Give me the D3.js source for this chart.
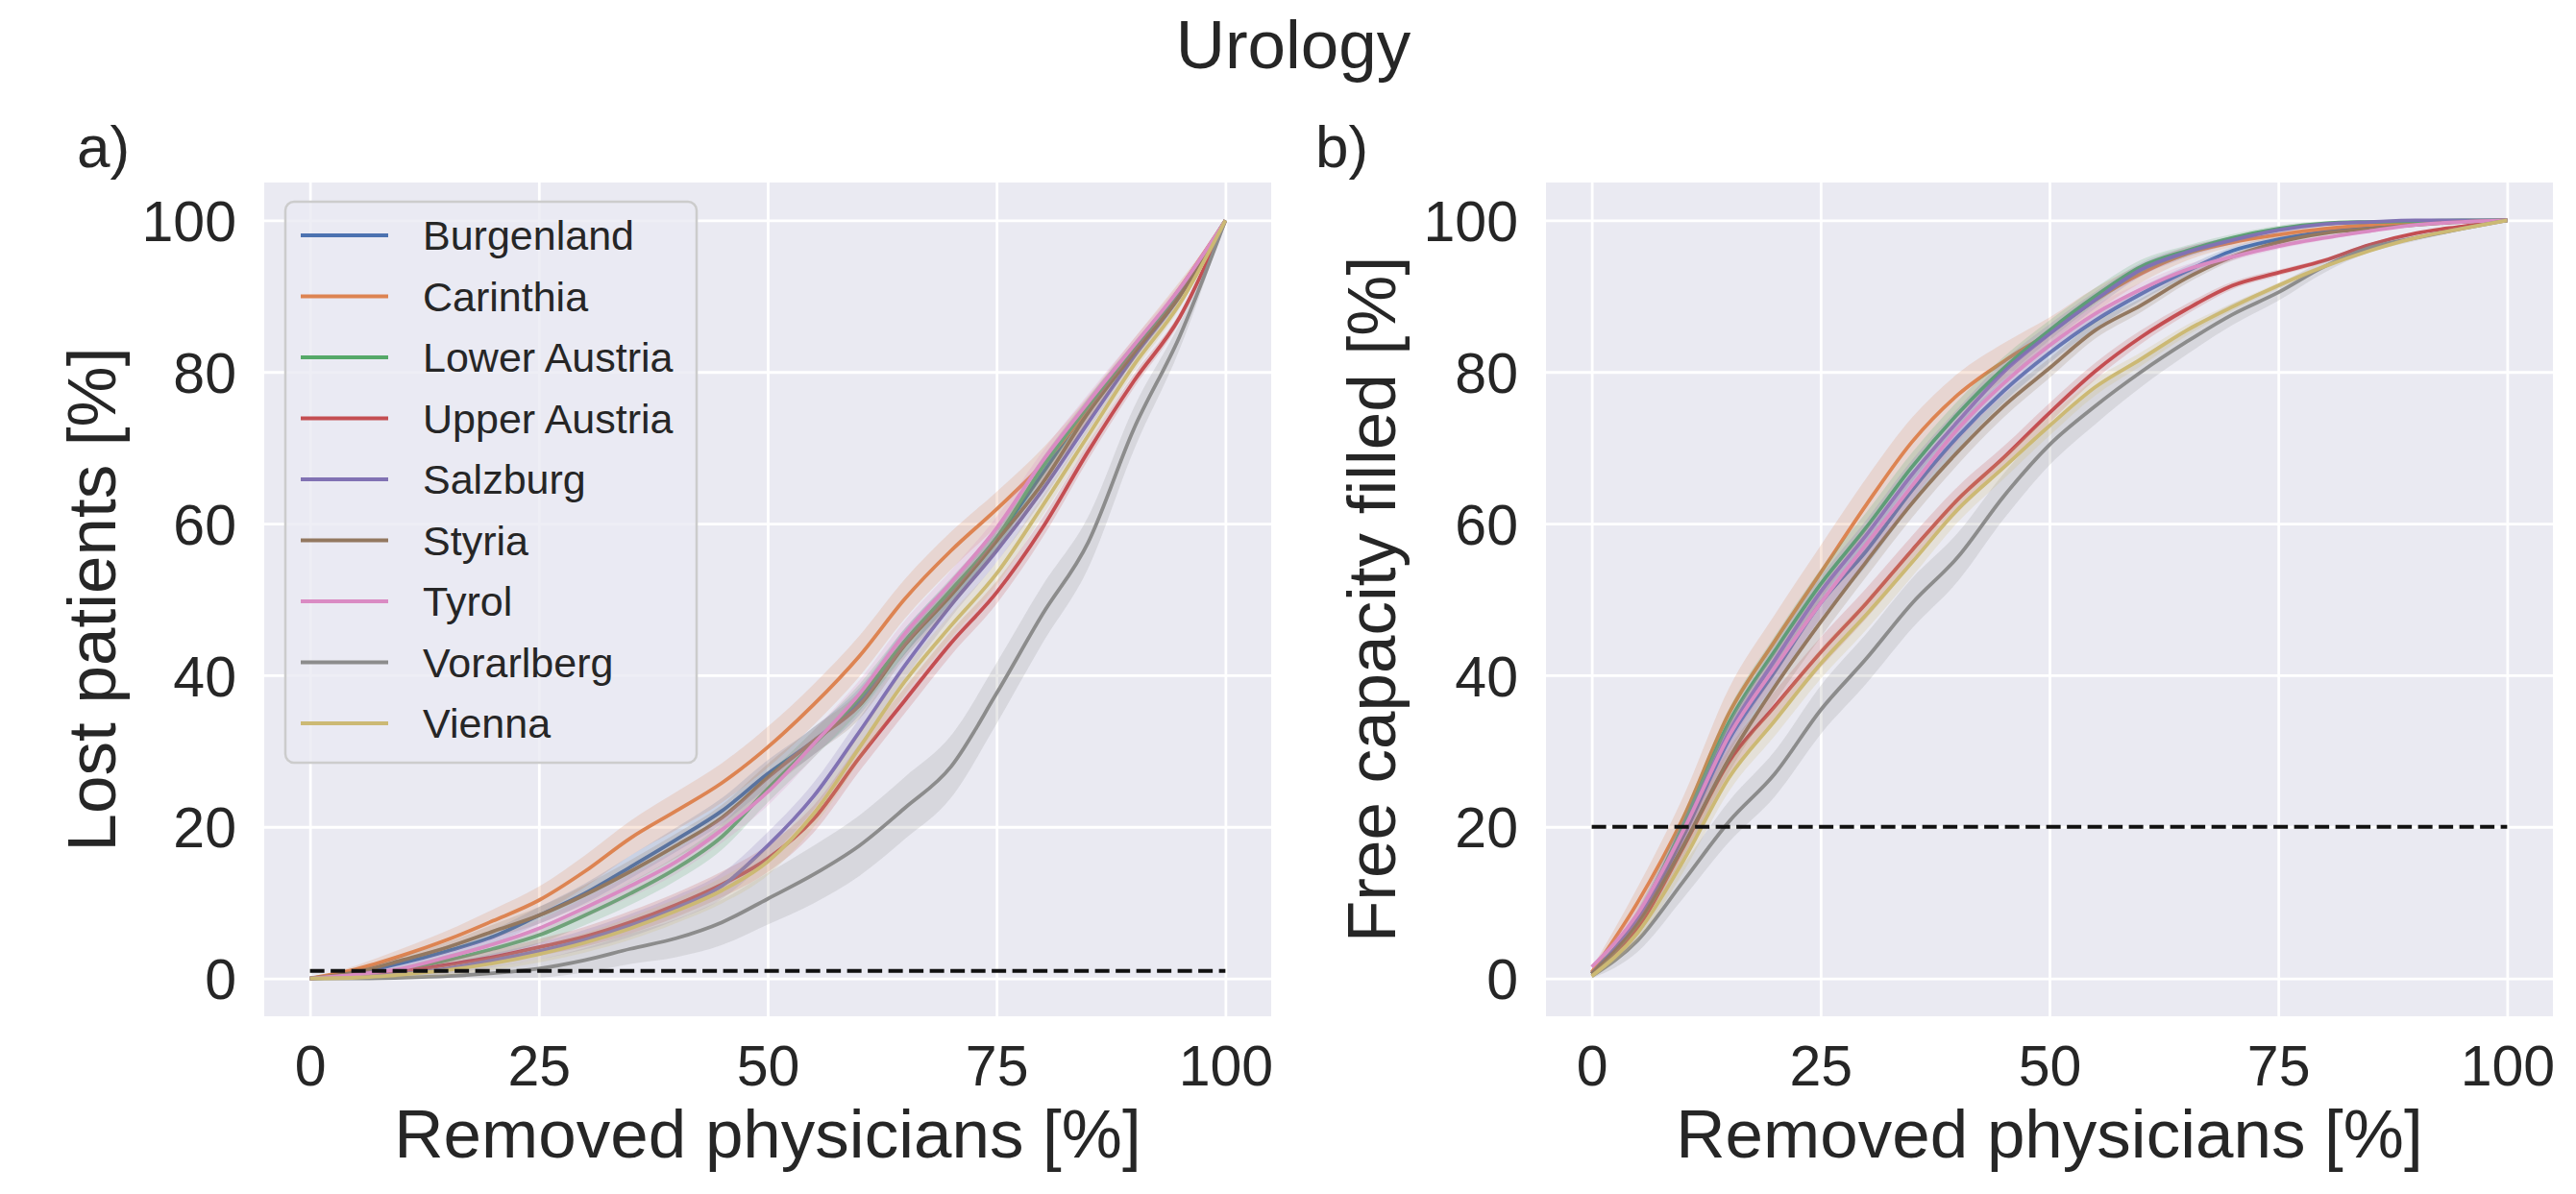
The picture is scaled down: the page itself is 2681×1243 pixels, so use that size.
<!DOCTYPE html>
<html>
<head>
<meta charset="utf-8">
<script src="https://cdn.jsdelivr.net/npm/d3@7"></script>
<style>
  body { margin: 0; background: #ffffff; }
  text { font-family: "Liberation Sans", Arial, sans-serif; fill: #262626; }
</style>
</head>
<body>
<div id="chart"></div>
<script>
// Données (pas de 5 %)
const removed = [0, 5, 10, 15, 20, 25, 30, 35, 40, 45, 50, 55, 60, 65, 70, 75, 80, 85, 90, 95, 100]
const xTicks = [0, 25, 50, 75, 100]
const yTicks = [0, 20, 40, 60, 80, 100]

const regions = ["Burgenland", "Carinthia", "Lower Austria", "Upper Austria", "Salzburg", "Styria", "Tyrol", "Vorarlberg", "Vienna"]
const colors = ["#4C72B0", "#DD8452", "#55A868", "#C44E52", "#8172B3", "#937860", "#DA8BC3", "#8C8C8C", "#CCB974"]

// a) Lost patients [%]
const lostBurgenland   = [0, 0.7, 2.0, 3.6, 5.5, 8.3, 11.2, 14.7, 18.3, 22.1, 27.0, 31.3, 36.5, 44.5, 51.0, 58.1, 66.6, 75.4, 83.0, 90.5, 100]
const lostCarinthia    = [0, 1.2, 3.0, 5.1, 7.6, 10.3, 14.1, 18.5, 22.1, 25.8, 30.5, 36.1, 42.5, 50.1, 56.4, 61.9, 67.8, 75.0, 83.0, 91.0, 100]
const lostLowerAustria = [0, 0.3, 1.1, 2.4, 3.9, 5.7, 8.3, 11.2, 14.5, 18.7, 25.0, 30.9, 37.0, 44.5, 51.2, 58.1, 67.4, 75.5, 83.0, 90.5, 100]
const lostUpperAustria = [0, 0.3, 0.9, 1.8, 2.8, 4.1, 5.5, 7.4, 9.7, 12.4, 15.8, 21.0, 29.1, 36.7, 44.2, 50.9, 59.4, 69.5, 78.8, 87.2, 100]
const lostSalzburg     = [0, 0.2, 0.6, 1.3, 2.4, 3.6, 5.1, 7.0, 9.3, 12.2, 17.5, 24.0, 32.5, 41.3, 49.2, 56.4, 64.4, 73.3, 82.0, 90.0, 100]
const lostStyria       = [0, 0.8, 2.4, 4.1, 6.2, 8.3, 11.0, 14.1, 17.5, 21.2, 26.5, 31.3, 36.0, 44.0, 50.5, 57.7, 65.3, 74.6, 82.5, 90.0, 100]
const lostTyrol        = [0, 0.5, 1.3, 2.8, 4.5, 6.6, 9.3, 12.2, 15.4, 19.6, 24.6, 30.9, 37.5, 45.5, 52.2, 59.4, 68.2, 76.0, 83.5, 91.0, 100]
const lostVorarlberg   = [0, 0, 0.1, 0.3, 0.7, 1.3, 2.4, 3.9, 5.3, 7.4, 10.5, 13.7, 17.5, 22.5, 27.9, 37.6, 48.0, 57.5, 72.5, 84.7, 100]
const lostVienna       = [0, 0.1, 0.5, 1.1, 2.0, 3.2, 4.7, 6.6, 8.9, 11.6, 15.4, 21.7, 30.4, 39.2, 46.5, 53.4, 62.3, 71.6, 80.9, 89.0, 100]

// b) Free capacity filled [%]
const fillBurgenland   = [0.8, 7.5, 18.8, 31.5, 40.5, 49.5, 56.4, 64.4, 71.5, 77.5, 82.5, 86.8, 90.3, 93.3, 96.0, 97.5, 98.5, 99.2, 99.6, 99.9, 100]
const fillCarinthia    = [0.8, 10.0, 21.2, 35.0, 44.5, 53.5, 62.5, 70.8, 77.0, 81.4, 85.2, 89.5, 93.0, 95.6, 97.1, 98.1, 98.9, 99.4, 99.7, 99.9, 100]
const fillLowerAustria = [0.6, 8.1, 20.2, 33.8, 43.2, 52.0, 59.5, 67.5, 74.5, 80.5, 85.5, 90.0, 93.9, 96.0, 97.7, 98.9, 99.6, 99.8, 99.9, 100, 100]
const fillUpperAustria = [0.6, 6.6, 17.3, 28.6, 35.9, 43.0, 49.5, 56.5, 63.2, 68.7, 74.6, 80.1, 84.6, 88.3, 91.4, 93.1, 94.7, 96.8, 98.3, 99.2, 100]
const fillSalzburg     = [0.6, 7.9, 19.5, 32.5, 42.0, 51.0, 58.5, 66.5, 73.5, 80.0, 85.0, 89.5, 93.5, 95.8, 97.4, 98.7, 99.5, 99.8, 100, 100, 100]
const fillStyria       = [0.6, 7.2, 17.5, 29.0, 38.5, 47.0, 55.0, 62.7, 69.5, 75.5, 80.5, 85.5, 88.8, 92.4, 95.2, 97.1, 98.3, 98.9, 99.4, 99.8, 100]
const fillTyrol        = [1.5, 8.5, 19.5, 32.0, 41.0, 49.5, 57.3, 65.0, 72.5, 78.5, 83.5, 87.7, 90.9, 93.5, 95.2, 96.6, 97.7, 98.6, 99.4, 99.8, 100]
const fillVorarlberg   = [0.3, 5.0, 12.8, 20.7, 27.0, 35.4, 42.2, 49.5, 55.6, 63.6, 70.4, 75.5, 80.0, 84.0, 87.6, 90.5, 93.9, 96.4, 97.7, 98.9, 100]
const fillVienna       = [0.3, 6.0, 15.5, 26.5, 34.0, 41.5, 48.0, 54.9, 61.9, 67.4, 72.9, 78.0, 81.7, 85.5, 88.6, 91.4, 93.9, 96.0, 97.7, 98.9, 100]

// demi-largeur des bandes de confiance
const bandLostNarrow = [0, 0.3, 0.5, 0.7, 0.9, 1.1, 1.3, 1.5, 1.6, 1.7, 1.8, 1.8, 1.8, 1.7, 1.6, 1.5, 1.3, 1.1, 0.9, 0.6, 0]
const bandLostWide   = [0, 0.5, 0.9, 1.2, 1.5, 1.8, 2.1, 2.3, 2.5, 2.6, 2.7, 2.7, 2.7, 2.6, 2.5, 2.3, 2.1, 1.8, 1.4, 0.9, 0]
const bandLostGrey   = [0, 0.2, 0.4, 0.6, 0.9, 1.2, 1.6, 2.0, 2.5, 3.0, 3.4, 3.8, 4.0, 4.1, 4.1, 4.0, 3.8, 3.4, 2.8, 1.7, 0]
const bandFillNarrow = [0.3, 1.0, 1.5, 1.8, 2.0, 2.0, 2.0, 1.9, 1.7, 1.5, 1.3, 1.1, 0.9, 0.7, 0.5, 0.4, 0.3, 0.2, 0.1, 0.1, 0]
const bandFillWide   = [0.5, 2.0, 2.8, 3.3, 3.5, 3.6, 3.5, 3.2, 2.8, 2.4, 2.0, 1.6, 1.2, 0.9, 0.6, 0.4, 0.3, 0.2, 0.1, 0.1, 0]
const bandFillGrey   = [0.3, 1.5, 2.2, 2.7, 3.0, 3.2, 3.3, 3.3, 3.2, 3.0, 2.7, 2.4, 2.0, 1.7, 1.4, 1.1, 0.8, 0.6, 0.4, 0.2, 0]

const lostSeries = [lostBurgenland, lostCarinthia, lostLowerAustria, lostUpperAustria, lostSalzburg, lostStyria, lostTyrol, lostVorarlberg, lostVienna]
const fillSeries = [fillBurgenland, fillCarinthia, fillLowerAustria, fillUpperAustria, fillSalzburg, fillStyria, fillTyrol, fillVorarlberg, fillVienna]
const lostBands = [bandLostNarrow, bandLostWide, bandLostNarrow, bandLostNarrow, bandLostNarrow, bandLostNarrow, bandLostNarrow, bandLostGrey, bandLostNarrow]
const fillBands = [bandFillNarrow, bandFillWide, bandFillNarrow, bandFillNarrow, bandFillNarrow, bandFillNarrow, bandFillNarrow, bandFillGrey, bandFillNarrow]


// Création du svg
const width = 2681
const height = 1243

const svg = d3.select("#chart")
    .append("svg")
    .attr("width", width)
    .attr("height", height)

svg.append("text")
    .attr("x", 1346)
    .attr("y", 71)
    .attr("text-anchor", "middle")
    .style("font-size", "71px")
    .text("Urology")


function panel(opts){
  const top = 190, bottom = 1058
  const x = d3.scaleLinear().domain([-5, 105]).range([opts.left, opts.left + 1048])
  const y = d3.scaleLinear().domain([-5, 105]).range([bottom, top])

  const g = svg.append("g")

  g.append("rect")
    .attr("x", opts.left)
    .attr("y", top)
    .attr("width", 1048)
    .attr("height", bottom - top)
    .attr("fill", "#EAEAF2")

  // grille + graduations
  const gx = g.append("g")
    .attr("transform", "translate(0," + bottom + ")")
    .call(d3.axisBottom(x).tickValues(xTicks).tickSize(-(bottom - top)).tickPadding(30))
  const gy = g.append("g")
    .attr("transform", "translate(" + opts.left + ",0)")
    .call(d3.axisLeft(y).tickValues(yTicks).tickSize(-1048).tickPadding(29))

  ;[gx, gy].forEach(function(a){
    a.select(".domain").remove()
    a.selectAll(".tick line").attr("stroke", "#ffffff").attr("stroke-width", 2.8)
    a.selectAll(".tick text")
      .attr("fill", "#262626")
      .style("font-size", "59px")
      .style("font-family", "'Liberation Sans', Arial, sans-serif")
  })
  gy.selectAll(".tick text").attr("dy", "0.36em")

  const clipId = "clip_" + opts.tag
  svg.append("clipPath").attr("id", clipId)
    .append("rect")
    .attr("x", opts.left).attr("y", top)
    .attr("width", 1048).attr("height", bottom - top)

  const plot = g.append("g").attr("clip-path", "url(#" + clipId + ")")

  const line = d3.line()
    .x(function(d, i){ return x(removed[i]) })
    .y(function(d){ return y(d) })
    .curve(d3.curveMonotoneX)

  opts.series.forEach(function(values, k){
    const ci = opts.bands[k]
    const area = d3.area()
      .x(function(d, i){ return x(removed[i]) })
      .y0(function(d, i){ return y(Math.max(0, d - ci[i])) })
      .y1(function(d, i){ return y(Math.min(100, d + ci[i])) })
      .curve(d3.curveMonotoneX)

    plot.append("path")
      .datum(values)
      .attr("d", area)
      .attr("fill", colors[k])
      .attr("fill-opacity", 0.2)

    plot.append("path")
      .datum(values)
      .attr("d", line)
      .attr("fill", "none")
      .attr("stroke", colors[k])
      .attr("stroke-width", 3.8)
      .attr("stroke-linejoin", "round")
  })

  // seuil en pointillés
  plot.append("line")
    .attr("x1", x(0)).attr("x2", x(100))
    .attr("y1", y(opts.threshold)).attr("y2", y(opts.threshold))
    .attr("stroke", "#111111")
    .attr("stroke-width", 4)
    .attr("stroke-dasharray", "15,6.5")

  g.append("text")
    .attr("x", opts.left + 524)
    .attr("y", 1205)
    .attr("text-anchor", "middle")
    .style("font-size", "71px")
    .text("Removed physicians [%]")

  g.append("text")
    .attr("transform", "translate(" + opts.ylabelX + "," + ((top + bottom) / 2) + ") rotate(-90)")
    .attr("text-anchor", "middle")
    .style("font-size", "71px")
    .text(opts.ylabel)

  g.append("text")
    .attr("x", opts.letterX)
    .attr("y", 174)
    .style("font-size", "62px")
    .text(opts.tag + ")")

  return {x: x, y: y}
}

panel({tag: "a", left: 275, series: lostSeries, bands: lostBands, threshold: 1,
       ylabel: "Lost patients [%]", ylabelX: 120, letterX: 80})
panel({tag: "b", left: 1609, series: fillSeries, bands: fillBands, threshold: 20,
       ylabel: "Free capacity filled [%]", ylabelX: 1452, letterX: 1369})


// Légende
const legend = svg.append("g")

legend.append("rect")
  .attr("x", 297)
  .attr("y", 210)
  .attr("width", 428)
  .attr("height", 584)
  .attr("rx", 9)
  .attr("fill", "#EAEAF2")
  .attr("fill-opacity", 0.8)
  .attr("stroke", "#cccccc")
  .attr("stroke-width", 2.5)

const items = legend.selectAll("g.item").data(regions)
  .enter()
  .append("g")
  .attr("class", "item")
  .attr("transform", function(d, i){ return "translate(0," + (245 + i * 63.5) + ")" })

items.append("line")
  .attr("x1", 313).attr("x2", 404)
  .attr("y1", 0).attr("y2", 0)
  .attr("stroke", function(d, i){ return colors[i] })
  .attr("stroke-width", 4)

items.append("text")
  .attr("x", 440)
  .attr("y", 15)
  .style("font-size", "43px")
  .text(function(d){ return d })
</script>
</body>
</html>
